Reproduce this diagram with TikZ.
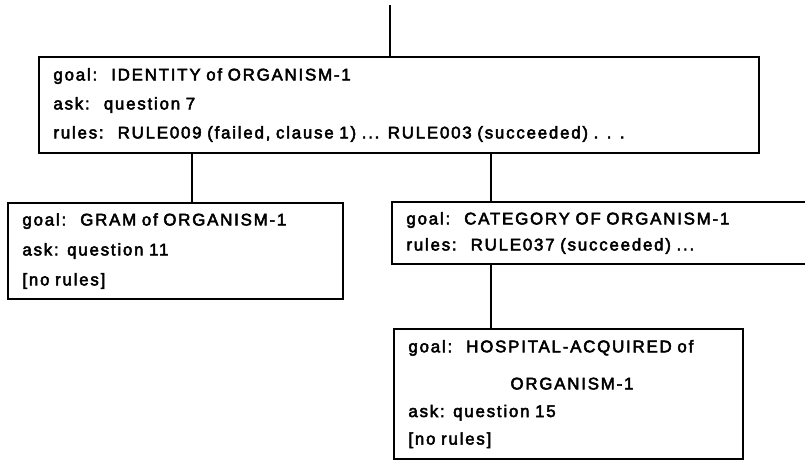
\documentclass[tikz,border=0pt]{standalone}
\usepackage{fontspec}
\newfontfamily\boxfont[LetterSpace=10.6,FakeBold=3]{Liberation Sans}
\begin{document}
\begin{tikzpicture}[x=0.025cm,y=-0.025cm,
  goalbox/.style={draw, line width=1.5pt, anchor=north west, align=left,
    inner xsep=0.36cm, inner ysep=0pt, font=\boxfont\fontsize{12pt}{#1}\selectfont},
  link/.style={line width=1.3pt}]
\useasboundingbox (0,0) rectangle (805,460);
% goal boxes
\node [goalbox=20.6pt, text width=17.28cm, minimum height=2.4cm] (identity) at (38,56)
  {goal:~ IDENTITY of ORGANISM-1\\ ask:~ question 7\\
   rules:~ RULE009 (failed, clause 1) ... RULE003 (succeeded) . . .};
\node [goalbox=21.3pt, text width=7.655cm, minimum height=2.4cm] (gram) at (7,202)
  {goal:~ GRAM of ORGANISM-1\\ ask: question 11\\{[no rules]}};
\node [goalbox=18.5pt, text width=10.03cm, minimum height=1.55cm] (category) at (391,201)
  {goal:~ CATEGORY OF ORGANISM-1\\ rules:~ RULE037 (succeeded) ...};
\node [goalbox=19.6pt, text width=8.005cm, minimum height=3.25cm] (hospital) at (393,328)
  {goal:~ HOSPITAL-ACQUIRED of\\[0.24cm] \hspace*{2.55cm}ORGANISM-1\\ ask: question 15\\{[no rules]}};
% links
\coordinate (top) at (390,5);
\path ([xshift=0.41cm]gram.north) coordinate (gramtop);
\path ([xshift=2.5cm]category.north west) coordinate (cattop);
\path ([xshift=2.45cm]hospital.north west) coordinate (hosptop);
\draw [link] (top) -- (top |- identity.north);
\draw [link] (gramtop) -- (gramtop |- identity.south);
\draw [link] (cattop) -- (cattop |- identity.south);
\draw [link] (hosptop) -- (hosptop |- category.south);
\end{tikzpicture}
\end{document}
